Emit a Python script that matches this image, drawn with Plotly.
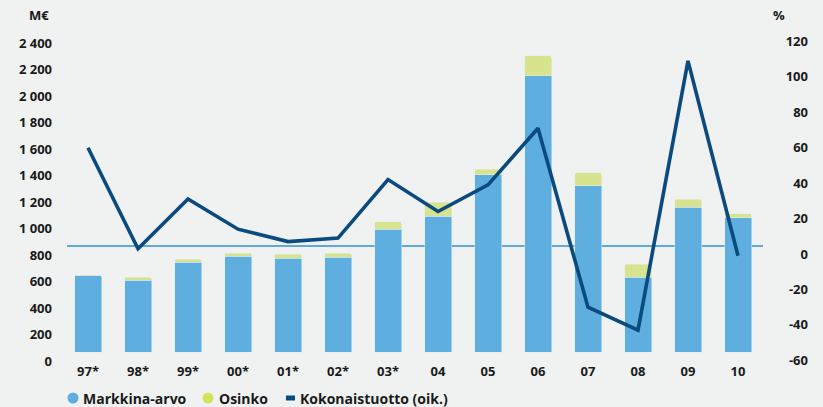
import plotly.graph_objects as go

# Years (asterisk marks restated figures)
years = ["97*", "98*", "99*", "00*", "01*", "02*", "03*", "04", "05", "06", "07", "08", "09", "10"]
# Market value, M€
markkina_arvo = [574, 543, 679, 724, 709, 717, 928, 1026, 1336, 2085, 1253, 564, 1094, 1014]
# Dividends, M€ (stacked on top of market value)
osinko = [10, 21, 21, 23, 30, 28, 55, 104, 45, 149, 100, 98, 58, 28]
# Total return, % (right axis)
kokonaistuotto = [60, 3, 31, 14, 7, 9, 42, 24, 39, 71, -30, -43, 109, -1]

left_ticks = list(range(0, 2401, 200))
left_labels = [f"{v:,}".replace(",", " ") for v in left_ticks]
right_ticks = list(range(-60, 121, 20))
right_labels = [str(v) for v in right_ticks]

legend_items = ["Markkina-arvo", "Osinko", "Kokonaistuotto (oik.)"]

BLUE = "#5eaee0"
GREEN = "#d7e48d"
GREEN_DOT = "#d4e25a"
NAVY = "#0b4a7e"
REF = "#3290d0"
BG = "#eff2f1"
TXT = "#1a1a1a"
FONT = "Open Sans"

W, H = 823, 407
L, R, T, B = 63, 5, 30, 25
plot_w = W - L - R
plot_h = H - T - B


def px_x(p):
    return (p - L) / plot_w


def px_y(p):
    return (H - B - p) / plot_h


fig = go.Figure()

fig.add_trace(go.Bar(x=years, y=markkina_arvo, marker_color=BLUE, name=legend_items[0],
                     hoverinfo="y"))
fig.add_trace(go.Bar(x=years, y=osinko, marker_color=GREEN, name=legend_items[1],
                     hoverinfo="y"))
fig.add_trace(go.Scatter(x=years, y=kokonaistuotto, yaxis="y2", mode="lines",
                         line=dict(color=NAVY, width=3.6), name=legend_items[2]))

# Zero reference line of the return axis
fig.add_shape(type="line", xref="x", yref="y", x0=-0.42, x1=13.5, y0=800, y1=800,
              line=dict(color=REF, width=1.5), layer="below")

# Compact legend row: symbol + label
legend_y = px_y(398)
fig.add_shape(type="circle", xref="paper", yref="paper",
              x0=px_x(67.5), x1=px_x(78.5), y0=px_y(403.5), y1=px_y(392.5),
              fillcolor=BLUE, line=dict(width=0))
fig.add_shape(type="circle", xref="paper", yref="paper",
              x0=px_x(202.5), x1=px_x(213.5), y0=px_y(403.5), y1=px_y(392.5),
              fillcolor=GREEN_DOT, line=dict(width=0))
fig.add_shape(type="line", xref="paper", yref="paper",
              x0=px_x(286), x1=px_x(295), y0=legend_y, y1=legend_y,
              line=dict(color=NAVY, width=5))
legend_text_x = [81, 217, 298]

# Left axis: bar baseline at 352 px, 7.547 M€ per px
left_range = [(352 - (H - B)) * 7.547, (352 - T) * 7.547]
# Right axis: 0 % at 254 px, 1.772 px per %-point
right_range = [(254 - (H - B)) / 1.772, (254 - T) / 1.772]

bold = dict(family=FONT, color=TXT, weight="bold")
annotations = [
    dict(text="M€", xref="paper", yref="paper", x=px_x(51), y=px_y(15),
         xanchor="right", yanchor="middle", showarrow=False, font=dict(size=13, **bold)),
    dict(text="%", xref="paper", yref="paper", x=px_x(771), y=px_y(15),
         xanchor="left", yanchor="middle", showarrow=False, font=dict(size=13, **bold)),
]
for label, lx in zip(legend_items, legend_text_x):
    annotations.append(dict(text=label, xref="paper", yref="paper", x=px_x(lx), y=legend_y,
                            xanchor="left", yanchor="middle", showarrow=False,
                            font=dict(size=14, **bold)))

fig.update_layout(
    width=W, height=H,
    margin=dict(l=L, r=R, t=T, b=B),
    paper_bgcolor=BG, plot_bgcolor=BG,
    barmode="stack", bargap=0.46, barcornerradius=2,
    font=dict(size=13, **bold),
    showlegend=False,
    xaxis=dict(domain=[0, px_x(763)], range=[-0.5, 13.5], type="category",
               anchor="free", position=px_y(362),
               showgrid=False, zeroline=False, showline=False, ticks="",
               tickfont=dict(size=13, **bold)),
    yaxis=dict(range=left_range, tickvals=left_ticks, ticktext=left_labels,
               showgrid=False, zeroline=False, showline=False, ticks="",
               ticklabelshift=9, ticklabelstandoff=10, tickfont=dict(size=13, **bold)),
    yaxis2=dict(range=right_range, tickvals=right_ticks, ticktext=right_labels,
                overlaying="y", side="right", anchor="free", position=px_x(811),
                ticklabelposition="inside", tickfont=dict(size=13, **bold),
                showgrid=False, zeroline=False, showline=False, ticks=""),
    annotations=annotations,
)

fig.write_html("out.html")
